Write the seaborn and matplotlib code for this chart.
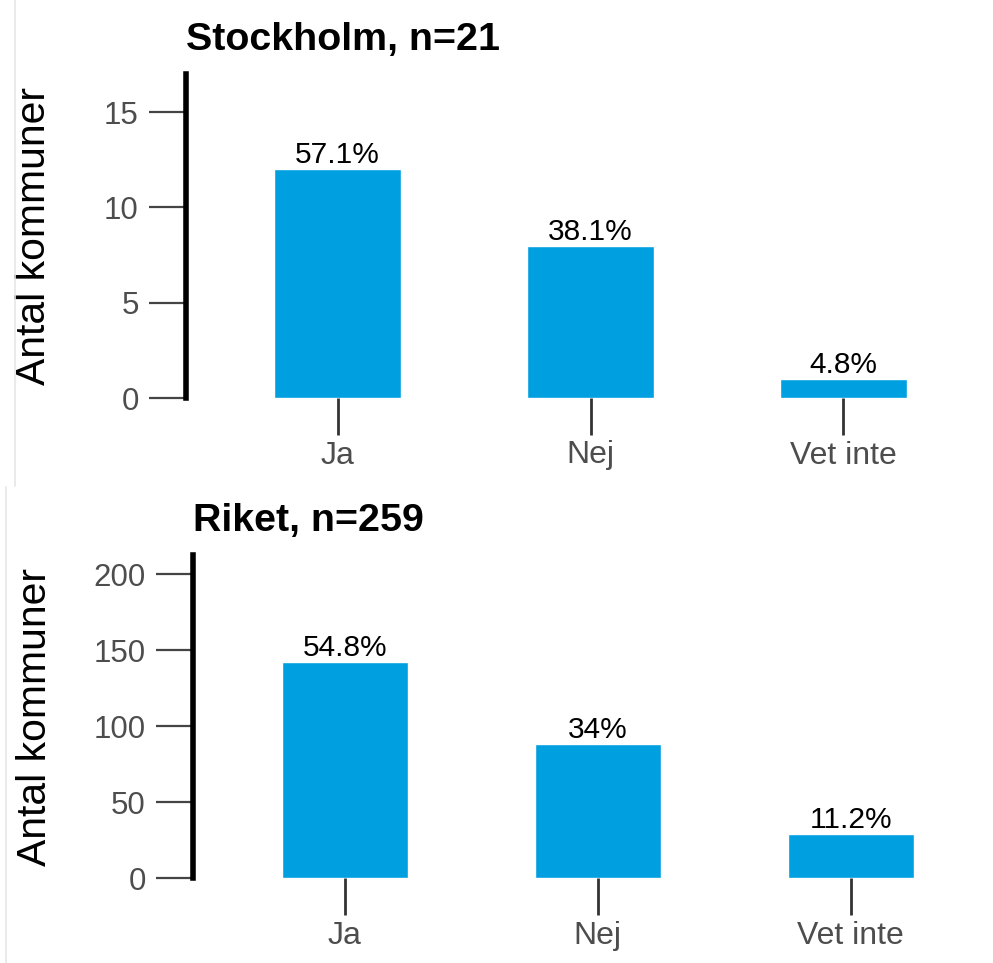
import matplotlib
matplotlib.use("Agg")
import matplotlib.pyplot as plt
from matplotlib.lines import Line2D
import seaborn as sns
import pandas as pd

categories = ["Ja", "Nej", "Vet inte"]
stockholm_counts = [12, 8, 1]
stockholm_pct = ["57.1%", "38.1%", "4.8%"]
riket_counts = [142, 88, 29]
riket_pct = ["54.8%", "34%", "11.2%"]

titles = ["Stockholm, n=21", "Riket, n=259"]
ylabel = "Antal kommuner"

sns.set_style("white")
plt.rcParams['font.family'] = ['Liberation Sans', 'DejaVu Sans']

BAR = "#009FE0"

fig = plt.figure(figsize=(9.93, 9.63), dpi=100)
W, H = 993, 963

def axes_px(left, top, bottom, width):
    return fig.add_axes([left / W, (H - bottom) / H, width / W, (bottom - top) / H])

# faint screenshot borders
fig.add_artist(Line2D([14.5 / W, 14.5 / W], [1, (H - 486) / H], color="#e6e6e6", lw=1.2))
fig.add_artist(Line2D([5.5 / W, 5.5 / W], [(H - 487) / H, 0], color="#e6e6e6", lw=1.2))

panels = [
    dict(ax=axes_px(186, 74, 398, 809), counts=stockholm_counts, pct=stockholm_pct,
         title=titles[0], ylim=17, ticks=[0, 5, 10, 15], labx=-0.164),
    dict(ax=axes_px(193, 555, 878, 809.6), counts=riket_counts, pct=riket_pct,
         title=titles[1], ylim=212.5, ticks=[0, 50, 100, 150, 200], labx=-0.172),
]

for p in panels:
    ax = p["ax"]
    df = pd.DataFrame({"kategori": categories, "antal": p["counts"]})
    sns.barplot(data=df, x="kategori", y="antal", color=BAR, saturation=1,
                width=0.5, ax=ax)
    ax.bar_label(ax.containers[0], labels=p["pct"], padding=0, fontsize=21.5,
                 color="black")
    ax.set_xlim(-0.6, 2.6)
    ax.set_ylim(0, p["ylim"])
    ax.set_yticks(p["ticks"])
    ax.set_xlabel("")
    ax.set_ylabel(ylabel, fontsize=29.4, color="black")
    ax.yaxis.set_label_coords(p["labx"], 0.5)
    ax.set_title(p["title"], loc="left", fontsize=28.4, fontweight="bold", pad=17,
                 color="black")
    sns.despine(ax=ax, top=True, right=True, bottom=True)
    ax.spines["left"].set_linewidth(4)
    ax.spines["left"].set_color("black")
    ax.tick_params(axis="y", direction="out", left=True, length=27, width=1.6,
                   color="#444444", labelcolor="#4d4d4d", labelsize=22.5, pad=7)
    ax.tick_params(axis="x", direction="out", bottom=True, length=26.6, width=2,
                   color="#333333", labelcolor="#4d4d4d", labelsize=23, pad=4)
    ax.grid(False)

fig.savefig("out.png", dpi=100)
